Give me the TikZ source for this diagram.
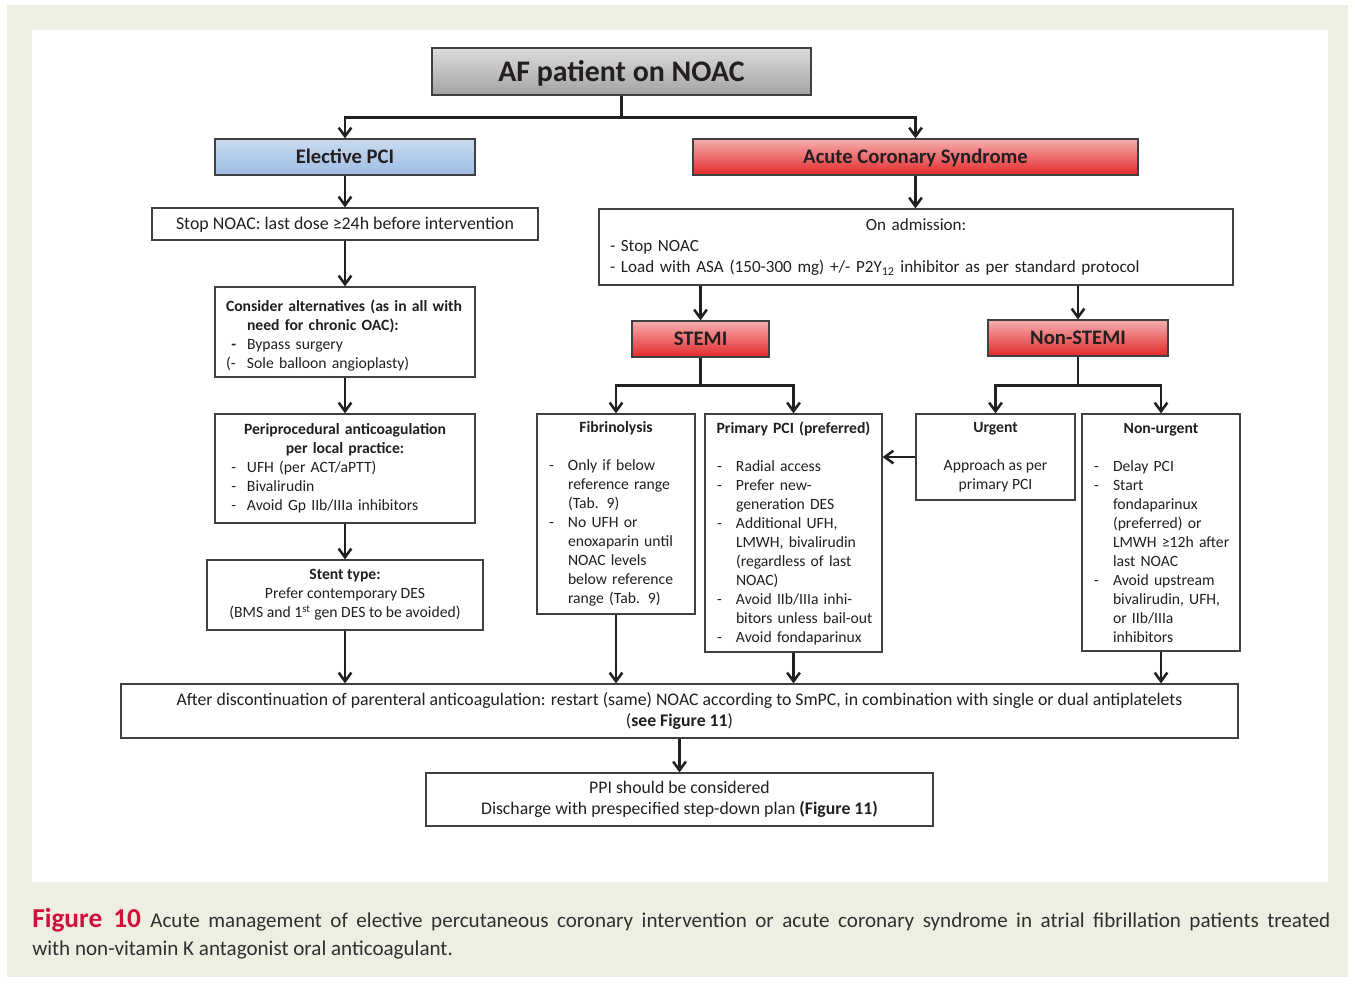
\documentclass[tikz,border=0pt]{standalone}
\usepackage{fontspec}
\setmainfont{Carlito}
\usepackage{tikz}
\usetikzlibrary{arrows.meta,positioning}
\usepackage{xcolor}

\definecolor{bgbeige}{HTML}{EFEEE3}
\definecolor{capred}{HTML}{D0103A}
\definecolor{captext}{HTML}{303030}
\definecolor{boxline}{HTML}{404040}
\definecolor{linkcol}{HTML}{231F20}
\definecolor{greytop}{HTML}{DCDCDC}
\definecolor{greybot}{HTML}{A3A3A3}
\definecolor{bluetop}{HTML}{CADBF0}
\definecolor{bluebot}{HTML}{9DBCE2}
\definecolor{redtop}{HTML}{F6AFAF}
\definecolor{redbot}{HTML}{E3282B}

% dash item with hanging indent
\newcommand{\ditem}[3][18.25pt]{\par\hangindent=#1\hangafter=1\noindent\makebox[#1][l]{\hspace{4pt}#2}#3\par}

\begin{document}
\begin{tikzpicture}[
    x=0.75pt, y=-0.75pt,
    box/.style={draw=boxline,line width=0.9pt,fill=white,inner sep=0pt,align=center,
      text=linkcol,font=\fontsize{11.75}{14.25}\selectfont},
    lst/.style={box,align=left,inner xsep=5pt},
    oneline/.style={text height=#1,text depth=0pt},
    head/.style={box,oneline=10pt,font=\fontsize{15.5}{18}\selectfont\bfseries},
    redhead/.style={head,top color=redtop,bottom color=redbot},
    link/.style={draw=linkcol,line width=1.9pt},
    arr/.style={link,-{Straight Barb[length=6.5pt,width=9.5pt]}}
]

% Frame and caption
\useasboundingbox (0,0) rectangle (1355,983);
\fill[bgbeige] (7,5) rectangle (1348,977);
\fill[white] (32,30) rectangle (1328,882);
\node[anchor=north west,inner sep=0pt,text width=973.5pt,align=justify,text=captext,
  font=\fontsize{15.8}{21}\selectfont] (caption) at (32,908)
  {{\color{capred}\fontsize{20.5}{21}\selectfont\bfseries Figure 10}\hspace{7pt}Acute management of elective percutaneous coronary intervention or acute coronary syndrome in atrial fibrillation patients treated\linebreak with non-vitamin K antagonist oral anticoagulant.};

% Top
\node[head,oneline=14.4pt,font=\fontsize{22.4}{26}\selectfont\bfseries,top color=greytop,bottom color=greybot,
  minimum width=284.25pt,minimum height=35.25pt] (af) at (621.5,71.5) {AF patient on NOAC};
\node[head,top color=bluetop,bottom color=bluebot,minimum width=195pt,minimum height=27pt]
  (elective) at (345,157) {Elective PCI};
\node[redhead,minimum width=333.75pt,minimum height=27pt] (acs) at (915.5,157) {Acute Coronary Syndrome};

% Elective branch
\node[box,oneline=8.6pt,font=\fontsize{13.4}{16}\selectfont,minimum width=289.5pt,minimum height=24pt]
  (stop) at (345,224) {Stop NOAC: last dose ≥24h before intervention};
\node[lst,inner xsep=8.25pt,text width=178.5pt,minimum height=67.5pt] (alt) at (345,332)
  {\par\hangindent=15.75pt\hangafter=1\noindent\textbf{Consider alternatives (as in all with need for chronic OAC):}
   \ditem[15.75pt]{\textbf{-}}{Bypass surgery}
   \ditem[15.75pt]{\hspace{-4pt}(-}{Sole balloon angioplasty)}};
\node[lst,inner xsep=8.25pt,text width=178.5pt,minimum height=81.75pt] (peri) at (345,468.5)
  {{\centering\bfseries Periprocedural anticoagulation\\ per local practice:\par}
   \ditem[15.75pt]{-}{UFH (per ACT/aPTT)}
   \ditem[15.75pt]{-}{Bivalirudin}
   \ditem[15.75pt]{-}{Avoid Gp IIb/IIIa inhibitors}};
\node[box,minimum width=207pt,minimum height=52.5pt] (stent) at (345,595)
  {\textbf{Stent type:}\\ Prefer contemporary DES\\ (BMS and 1\textsuperscript{st} gen DES to be avoided)};

% ACS branch
\node[lst,inner xsep=8.25pt,text width=459pt,minimum height=57pt,
  font=\fontsize{12.8}{16}\selectfont] (adm) at (916,247)
  {{\centering On admission:\par}
   - Stop NOAC\par
   - Load with ASA (150-300 mg) +/- P2Y\textsubscript{12} inhibitor as per standard protocol};
\node[redhead,minimum width=102.75pt,minimum height=27pt] (stemi) at (700.5,339) {STEMI};
\node[redhead,minimum width=135pt,minimum height=27pt] (nstemi) at (1078,338) {Non-STEMI};

\node[lst,text width=108.5pt,minimum height=150pt] (fib) at (616,514)
  {{\centering\bfseries Fibrinolysis\par}\vskip14.25pt
   \ditem{-}{Only if below\newline reference range\newline (Tab. 9)}
   \ditem{-}{No UFH or\newline enoxaparin until\newline NOAC levels\newline below reference\newline range (Tab. 9)}};
\node[lst,text width=122.75pt,minimum height=178.5pt] (ppci) at (793.5,533)
  {{\centering\bfseries Primary PCI (preferred)\par}\vskip14.25pt
   \ditem{-}{Radial access}
   \ditem{-}{Prefer new-\newline generation DES}
   \ditem{-}{Additional UFH,\newline LMWH, bivalirudin\newline (regardless of last\newline NOAC)}
   \ditem{-}{Avoid IIb/IIIa inhi-\newline bitors unless bail-out}
   \ditem{-}{Avoid fondaparinux}};
\node[box,minimum width=119.25pt,minimum height=64.5pt] (urgent) at (995.5,457)
  {\textbf{Urgent}\\[14.25pt] Approach as per\\ primary PCI};
\node[lst,text width=108.5pt,minimum height=177.75pt] (nonurg) at (1161,532.5)
  {{\centering\bfseries Non-urgent\par}\vskip14.25pt
   \ditem{-}{Delay PCI}
   \ditem{-}{Start\newline fondaparinux\newline (preferred) or\newline LMWH ≥12h after\newline last NOAC}
   \ditem{-}{Avoid upstream\newline bivalirudin, UFH,\newline or IIb/IIIa\newline inhibitors}};

% Bottom
\node[box,font=\fontsize{13.3}{16.5}\selectfont,minimum width=837.75pt,minimum height=40.5pt]
  (restart) at (679.5,711)
  {After discontinuation of parenteral anticoagulation: restart (same) NOAC according to SmPC, in combination with single or dual antiplatelets\\ (\textbf{see Figure 11})};
\node[box,font=\fontsize{13.3}{15.75}\selectfont,minimum width=380.25pt,minimum height=39.75pt]
  (ppi) at (679.5,799.5)
  {PPI should be considered\\ Discharge with prespecified step-down plan \textbf{(Figure 11)}};

% Connectors
\draw[link] (af.south) -- ++(0,22) coordinate (afj);
\draw[arr] (afj) -| (elective.north);
\draw[arr] (afj) -| (acs.north);
\draw[arr] (elective) -- (stop);
\draw[arr] (stop) -- (alt);
\draw[arr] (alt) -- (peri);
\draw[arr] (peri) -- (stent);
\draw[arr] (stent.south) -- (stent.south |- restart.north);
\draw[arr] (acs) -- (acs.south |- adm.north);
\draw[arr] (stemi.north |- adm.south) -- (stemi);
\draw[arr] (nstemi.north |- adm.south) -- (nstemi);
\draw[link] (stemi.south) -- ++(0,28) coordinate (stj);
\draw[arr] (stj) -| (fib.north);
\draw[arr] (stj) -| (ppci.north);
\draw[link] (nstemi.south) -- ++(0,29) coordinate (nsj);
\draw[arr] (nsj) -| (urgent.north);
\draw[arr] (nsj) -| (nonurg.north);
\draw[arr] (urgent.west) -- (urgent.west -| ppci.east);
\draw[arr] (fib.south) -- (fib.south |- restart.north);
\draw[arr] (ppci.south) -- (ppci.south |- restart.north);
\draw[arr] (nonurg.south) -- (nonurg.south |- restart.north);
\draw[arr] (restart) -- (ppi);

\end{tikzpicture}
\end{document}
